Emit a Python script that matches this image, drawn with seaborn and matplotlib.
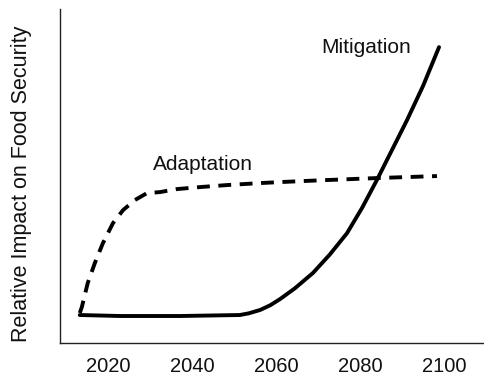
import pandas as pd
import seaborn as sns
import matplotlib.pyplot as plt

# values (arbitrary impact units, 0-100)
adapt_year = [2013.3, 2013.8, 2015.2, 2016.9, 2018.8, 2021.2, 2023.6, 2026.4, 2029.3,
              2032.4, 2036.4, 2041.9, 2048.3, 2056.2, 2061.0, 2070.0, 2084.0, 2098.3]
adapt_val = [9.0, 10.8, 18.0, 24.0, 29.9, 35.9, 39.8, 42.8, 44.9,
             45.2, 46.1, 46.7, 47.3, 47.9, 48.2, 48.7, 49.4, 50.0]

mitig_year = [2013.3, 2022.9, 2037.1, 2051.4, 2053.5, 2056.2, 2058.6, 2061.0, 2064.5,
              2068.8, 2072.8, 2076.9, 2080.5, 2084.0, 2087.6, 2091.2, 2095.0, 2098.8]
mitig_val = [8.4, 8.1, 8.1, 8.4, 8.9, 9.9, 11.3, 13.2, 16.4,
             21.0, 26.5, 32.9, 40.5, 48.8, 57.8, 66.8, 77.0, 88.6]

year_ticks = [2020, 2040, 2060, 2080, 2100]

df = pd.DataFrame({
    "year": adapt_year + mitig_year,
    "impact": adapt_val + mitig_val,
    "series": ["Adaptation"] * len(adapt_year) + ["Mitigation"] * len(mitig_year),
})

sns.set_style("white")
plt.rcParams["font.family"] = ["Liberation Sans", "DejaVu Sans"]
plt.rcParams["text.color"] = "#111111"
plt.rcParams["xtick.color"] = "#111111"
plt.rcParams["axes.labelcolor"] = "#111111"

fig = plt.figure(figsize=(4.84, 3.77), dpi=100)
ax = fig.add_axes([0.124, 0.090, 0.876, 0.886])

sns.lineplot(data=df, x="year", y="impact", style="series", ax=ax,
             estimator=None, sort=False, color="black", linewidth=2.8,
             dashes={"Adaptation": (3.3, 2.2), "Mitigation": ""}, legend=False)

ax.text(2081.5, 88.5, "Mitigation", fontsize=15, ha="center", va="center")
ax.text(2042.5, 53.5, "Adaptation", fontsize=15, ha="center", va="center")

ax.set_xlim(2008.6, 2109.5)
ax.set_ylim(0, 100)
ax.set_xticks(year_ticks)
ax.set_xticklabels([str(y) for y in year_ticks], fontsize=14.5)
ax.set_yticks([])
ax.tick_params(axis="x", length=0, pad=10)
ax.set_xlabel("")
ax.set_ylabel("Relative Impact on Food Security", fontsize=15.5)
ax.yaxis.set_label_coords(-0.067, 0.478)

sns.despine(ax=ax, top=True, right=True)
for s in ["left", "bottom"]:
    ax.spines[s].set_color("#222222")
    ax.spines[s].set_linewidth(1.0)

fig.savefig("out.png", dpi=100)
